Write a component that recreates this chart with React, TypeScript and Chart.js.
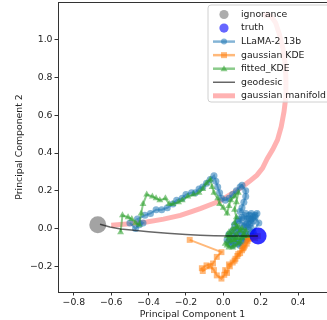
import React, { useEffect, useRef } from 'react';
import { Chart, registerables } from 'chart.js';
Chart.register(...registerables);

const xTicks = [-0.8, -0.6, -0.4, -0.2, 0.0, 0.2, 0.4];
const yTicks = [-0.2, 0.0, 0.2, 0.4, 0.6, 0.8, 1.0];
const xTitle = 'Principal Component 1';
const yTitle = 'Principal Component 2';
const legendLabels = ['ignorance', 'truth', 'LLaMA-2 13b', 'gaussian KDE', 'fitted_KDE', 'geodesic', 'gaussian manifold'];

const ignorance = [[-0.672, 0.02]];
const truth = [[0.186, -0.04]];

const llama = [
  [-0.5, 0.03], [-0.47, 0.0], [-0.45, 0.02], [-0.43, 0.03], [-0.46, 0.05], [-0.42, 0.07], [-0.39, 0.08],
  [-0.36, 0.1], [-0.33, 0.1], [-0.3, 0.11], [-0.27, 0.13], [-0.25, 0.15], [-0.22, 0.16], [-0.2, 0.18],
  [-0.17, 0.19], [-0.15, 0.19], [-0.13, 0.21], [-0.11, 0.22], [-0.09, 0.24], [-0.07, 0.26], [-0.05, 0.28],
  [-0.04, 0.25], [-0.03, 0.22], [-0.02, 0.19], [-0.01, 0.16], [0.01, 0.15], [0.03, 0.16], [0.05, 0.18],
  [0.07, 0.2], [0.09, 0.22], [0.1, 0.23], [0.12, 0.2], [0.12, 0.17], [0.11, 0.14], [0.1, 0.11],
  [0.09, 0.09], [0.12, 0.08], [0.15, 0.08], [0.18, 0.08], [0.16, 0.06], [0.13, 0.05], [0.1, 0.06],
  [0.08, 0.04], [0.06, 0.02], [0.08, 0.0], [0.05, -0.01], [0.03, -0.03], [0.02, -0.06], [0.04, -0.08],
  [0.07, -0.07], [0.1, -0.05], [0.13, -0.03], [0.15, 0.0], [0.12, 0.02], [0.14, 0.05], [0.17, 0.06],
  [0.19, 0.03], [0.16, -0.02], [0.12, -0.06], [0.09, -0.09], [0.06, -0.05], [0.09, -0.02], [0.11, 0.01],
  [0.13, 0.03], [0.15, 0.05], [0.17, 0.07], [0.15, 0.03], [0.13, 0.01], [0.1, 0.03], [0.08, 0.05],
  [0.11, 0.06], [0.14, 0.07], [0.16, 0.04], [0.14, 0.02], [0.12, -0.01], [0.1, -0.03], [0.07, -0.02],
  [0.05, -0.04], [0.03, -0.07], [0.05, -0.09], [0.08, -0.08], [0.1, -0.07], [0.12, -0.04],
  [0.15, -0.04], [0.17, -0.04],
];

const gaussKde = [
  [-0.18, -0.06], [-0.01, -0.125], [-0.035, -0.15], [-0.055, -0.185], [-0.09, -0.195], [-0.115, -0.21],
  [-0.11, -0.225], [-0.07, -0.2], [-0.05, -0.22], [-0.035, -0.248], [-0.01, -0.265], [0.005, -0.245],
  [0.01, -0.22], [0.02, -0.235], [0.035, -0.2], [0.03, -0.19], [0.05, -0.18], [0.06, -0.17],
  [0.065, -0.16], [0.075, -0.145], [0.08, -0.135], [0.09, -0.13], [0.1, -0.115], [0.105, -0.105],
  [0.115, -0.09], [0.11, -0.1], [0.125, -0.08], [0.13, -0.065], [0.13, -0.05], [0.14, -0.055],
  [0.145, -0.05], [0.16, -0.045], [0.17, -0.05], [0.185, -0.04],
];

const fittedKde = [
  [-0.55, -0.02], [-0.54, 0.07], [-0.51, 0.06], [-0.49, 0.05], [-0.47, 0.03], [-0.45, 0.02], [-0.44, 0.08],
  [-0.43, 0.13], [-0.41, 0.18], [-0.38, 0.17], [-0.36, 0.16], [-0.34, 0.15], [-0.31, 0.16], [-0.29, 0.13],
  [-0.27, 0.13], [-0.24, 0.14], [-0.22, 0.15], [-0.19, 0.17], [-0.16, 0.18], [-0.13, 0.19], [-0.11, 0.21],
  [-0.09, 0.24], [-0.07, 0.26], [-0.06, 0.22], [-0.05, 0.19], [-0.03, 0.16], [-0.02, 0.13], [0.0, 0.11],
  [0.02, 0.08], [0.03, 0.12], [0.04, 0.15], [0.06, 0.17], [0.08, 0.19], [0.07, 0.14], [0.06, 0.1],
  [0.07, 0.06], [0.06, 0.03], [0.08, 0.01], [0.05, -0.02], [0.03, -0.05], [0.01, -0.08], [0.03, -0.1],
  [0.06, -0.09], [0.09, -0.07], [0.11, -0.04], [0.12, -0.01], [0.1, 0.0], [0.07, -0.03], [0.05, -0.06],
  [0.08, -0.05], [0.11, -0.03], [0.09, -0.01], [0.07, 0.01], [0.05, 0.0], [0.03, -0.02], [0.02, -0.04],
  [0.04, -0.07], [0.06, -0.06], [0.08, -0.08], [0.05, -0.1], [0.02, -0.09], [0.04, -0.04], [0.07, -0.05],
  [0.1, -0.05], [0.13, -0.04],
];

const geodesic = [
  [-0.66, 0.023], [-0.607, 0.008], [-0.55, -0.002], [-0.48, -0.009], [-0.4, -0.017], [-0.3, -0.025],
  [-0.2, -0.031], [-0.125, -0.035], [-0.05, -0.038], [0.05, -0.04], [0.185, -0.04],
];

const manifold = [
  [-0.6, 0.018], [-0.5, 0.025], [-0.41, 0.035], [-0.32, 0.05], [-0.23, 0.07], [-0.17, 0.09], [-0.12, 0.107],
  [-0.06, 0.13], [-0.02, 0.145], [0.05, 0.187], [0.1, 0.22], [0.14, 0.25], [0.18, 0.283], [0.21, 0.32],
  [0.235, 0.37], [0.265, 0.42], [0.29, 0.47], [0.31, 0.54], [0.325, 0.62], [0.335, 0.7], [0.335, 0.8],
  [0.33, 0.88], [0.32, 0.95], [0.3, 1.03], [0.28, 1.09], [0.255, 1.125], [0.235, 1.135], [0.215, 1.125],
];

const FONT = "'DejaVu Sans', sans-serif";
const TXT = '#222222';
const BLUE = 'rgba(31,119,180,0.55)';
const ORANGE = 'rgba(255,127,14,0.55)';
const GREEN = 'rgba(44,160,44,0.55)';
const PINK = 'rgba(255,0,0,0.3)';
const GEO = 'rgba(0,0,0,0.6)';

const toPts = (arr: number[][]) => arr.map(([x, y]) => ({ x, y }));
const fmt = (v: any) => (Number(v) < 0 ? '\u2212' + Math.abs(Number(v)).toFixed(1) : Number(v).toFixed(1));

const framePlugin = {
  id: 'frameTop',
  afterDraw(chart: any) {
    const { ctx, chartArea } = chart;
    ctx.save();
    ctx.strokeStyle = '#333333';
    ctx.lineWidth = 1;
    ctx.beginPath();
    ctx.moveTo(chartArea.left, chartArea.top + 0.5);
    ctx.lineTo(chartArea.right, chartArea.top + 0.5);
    ctx.stroke();
    ctx.restore();
  },
};

const legendPlugin = {
  id: 'customLegend',
  afterDraw(chart: any) {
    const { ctx, chartArea } = chart;
    const bx = chartArea.left + 150;
    const by = chartArea.top + 3;
    const bw = 130;
    const bh = 97;
    ctx.save();
    ctx.beginPath();
    const r = 3;
    ctx.moveTo(bx + r, by);
    ctx.lineTo(bx + bw - r, by);
    ctx.arcTo(bx + bw, by, bx + bw, by + r, r);
    ctx.lineTo(bx + bw, by + bh - r);
    ctx.arcTo(bx + bw, by + bh, bx + bw - r, by + bh, r);
    ctx.lineTo(bx + r, by + bh);
    ctx.arcTo(bx, by + bh, bx, by + bh - r, r);
    ctx.lineTo(bx, by + r);
    ctx.arcTo(bx, by, bx + r, by, r);
    ctx.closePath();
    ctx.fillStyle = 'rgba(255,255,255,0.8)';
    ctx.fill();
    ctx.strokeStyle = '#d0d0d0';
    ctx.lineWidth = 1;
    ctx.stroke();

    const x0 = bx + 5;
    const x1 = bx + 27;
    const cx = (x0 + x1) / 2;
    const tx = bx + 33;
    const y0 = by + 9.5;
    const dy = 13.55;
    ctx.font = `9.3px ${FONT}`;
    ctx.textBaseline = 'middle';
    ctx.textAlign = 'left';
    legendLabels.forEach((label, i) => {
      const y = y0 + i * dy;
      const line = (color: string, w: number) => {
        ctx.strokeStyle = color;
        ctx.lineWidth = w;
        ctx.beginPath();
        ctx.moveTo(x0, y);
        ctx.lineTo(x1, y);
        ctx.stroke();
      };
      if (i === 0 || i === 1) {
        ctx.fillStyle = i === 0 ? 'rgba(128,128,128,0.65)' : 'rgba(0,0,255,0.6)';
        ctx.beginPath();
        ctx.arc(cx, y, 4.6, 0, Math.PI * 2);
        ctx.fill();
      } else if (i === 2) {
        line(BLUE, 2.5);
        ctx.fillStyle = BLUE;
        ctx.beginPath();
        ctx.arc(cx, y, 3, 0, Math.PI * 2);
        ctx.fill();
      } else if (i === 3) {
        line(ORANGE, 2.5);
        ctx.fillStyle = ORANGE;
        ctx.fillRect(cx - 3, y - 3, 6, 6);
      } else if (i === 4) {
        line(GREEN, 2.5);
        ctx.fillStyle = GREEN;
        ctx.beginPath();
        ctx.moveTo(cx, y - 3.5);
        ctx.lineTo(cx + 3.5, y + 2.5);
        ctx.lineTo(cx - 3.5, y + 2.5);
        ctx.closePath();
        ctx.fill();
      } else if (i === 5) {
        line(GEO, 1.5);
      } else {
        line(PINK, 5);
      }
      ctx.fillStyle = TXT;
      ctx.fillText(label, tx, y);
    });
    ctx.restore();
  },
};

export default function App() {
  const ref = useRef<HTMLCanvasElement>(null);
  useEffect(() => {
    if (!ref.current) return;
    const chart = new Chart(ref.current, {
      type: 'scatter',
      data: {
        datasets: [
          {
            label: legendLabels[6], data: toPts(manifold), showLine: true, borderColor: PINK, borderWidth: 5,
            pointRadius: 0, order: 7,
          },
          {
            label: legendLabels[2], data: toPts(llama), showLine: true, borderColor: BLUE, borderWidth: 2,
            pointRadius: 3.5, pointBackgroundColor: BLUE, pointBorderWidth: 0, pointStyle: 'circle', order: 6,
          },
          {
            label: legendLabels[3], data: toPts(gaussKde), showLine: true, borderColor: ORANGE, borderWidth: 2,
            pointRadius: 4.2, pointBackgroundColor: ORANGE, pointBorderWidth: 0, pointStyle: 'rect', order: 5,
          },
          {
            label: legendLabels[4], data: toPts(fittedKde), showLine: true, borderColor: GREEN, borderWidth: 2,
            pointRadius: 4, pointBackgroundColor: GREEN, pointBorderWidth: 0, pointStyle: 'triangle', order: 4,
          },
          {
            label: legendLabels[0], data: toPts(ignorance), pointRadius: 8.5,
            pointBackgroundColor: 'rgba(128,128,128,0.72)', pointBorderWidth: 0, order: 3,
          },
          {
            label: legendLabels[1], data: toPts(truth), pointRadius: 8.5,
            pointBackgroundColor: 'rgba(0,0,255,0.8)', pointBorderWidth: 0, order: 2,
          },
          {
            label: legendLabels[5], data: toPts(geodesic), showLine: true, borderColor: GEO, borderWidth: 1.5,
            pointRadius: 0, order: 1,
          },
        ],
      },
      options: {
        animation: false,
        responsive: false,
        layout: { autoPadding: false, padding: { top: 2, right: 0, left: 0, bottom: 0 } },
        plugins: { legend: { display: false }, tooltip: { enabled: false } },
        scales: {
          x: {
            type: 'linear', min: -0.885, max: 0.555,
            afterBuildTicks: (s: any) => { s.ticks = xTicks.map((v) => ({ value: v })); },
            afterFit: (s: any) => { s.height = 28; s.paddingLeft = 0; s.paddingRight = 0; },
            grid: { display: true, drawOnChartArea: false, drawTicks: true, tickLength: 3.5, color: '#333333' },
            border: { display: true, color: '#333333', width: 1 },
            ticks: { color: TXT, font: { family: FONT, size: 9.3 }, padding: 2, maxRotation: 0, callback: fmt },
            title: { display: true, text: xTitle, color: TXT, font: { family: FONT, size: 9.3 }, padding: { top: 1, bottom: 0 } },
          },
          y: {
            type: 'linear', min: -0.336, max: 1.2,
            afterBuildTicks: (s: any) => { s.ticks = yTicks.map((v) => ({ value: v })); },
            afterFit: (s: any) => { s.width = 58; s.paddingTop = 0; s.paddingBottom = 0; },
            grid: { display: true, drawOnChartArea: false, drawTicks: true, tickLength: 3.5, color: '#333333' },
            border: { display: true, color: '#333333', width: 1 },
            ticks: { color: TXT, font: { family: FONT, size: 9.3 }, padding: 2, callback: fmt },
            title: { display: true, text: yTitle, color: TXT, font: { family: FONT, size: 9.3 }, padding: { top: 14, bottom: 0 } },
          },
        },
      },
      plugins: [framePlugin, legendPlugin],
    });
    return () => chart.destroy();
  }, []);
  return (
    <div style={{ position: 'fixed', left: 0, top: 0, width: 327, height: 320, background: '#fff' }}>
      <canvas ref={ref} width={327} height={320} style={{ display: 'block' }} />
    </div>
  );
}
